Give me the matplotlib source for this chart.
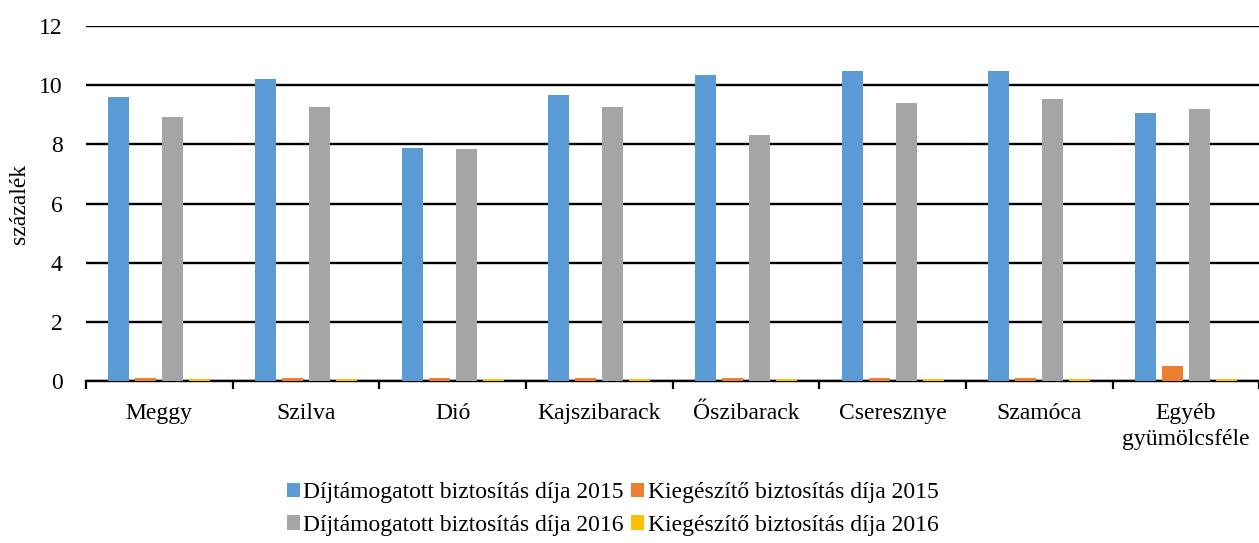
import numpy as np
import matplotlib.pyplot as plt

plt.rcParams['font.family'] = ['Liberation Serif', 'DejaVu Serif']

# ----------------------- Data -----------------------
categories = ["Meggy", "Szilva", "Dió", "Kajszibarack", "Őszibarack",
              "Cseresznye", "Szamóca", "Egyéb\ngyümölcsféle"]
dij_2015 = [9.60, 10.22, 7.87, 9.68, 10.34, 10.47, 10.48, 9.07]
kieg_2015 = [0.10, 0.10, 0.10, 0.10, 0.10, 0.10, 0.10, 0.50]
dij_2016 = [8.92, 9.27, 7.85, 9.27, 8.31, 9.41, 9.55, 9.20]
kieg_2016 = [0.09, 0.09, 0.09, 0.09, 0.09, 0.09, 0.09, 0.09]

series = [
    ("Díjtámogatott biztosítás díja 2015", dij_2015, "#5B9BD5"),
    ("Kiegészítő biztosítás díja 2015", kieg_2015, "#ED7D31"),
    ("Díjtámogatott biztosítás díja 2016", dij_2016, "#A5A5A5"),
    ("Kiegészítő biztosítás díja 2016", kieg_2016, "#FFC000"),
]

FS = 17

# ----------------------- Plot -----------------------
fig = plt.figure(figsize=(12.59, 5.43), dpi=100)
ax = fig.add_axes([0.0683, 0.298, 0.932, 0.654])

x = np.arange(len(categories))
width = 0.143
step = 0.184
offsets = (np.arange(4) - 1.5) * step

handles = []
for (label, vals, color), off in zip(series, offsets):
    h = ax.bar(x + off, vals, width, color=color, label=label, zorder=3)
    handles.append(h)

ax.set_ylim(0, 12)
ax.set_xlim(-0.5, len(categories) - 0.5)
ax.set_yticks(range(0, 13, 2))
ax.yaxis.grid(True, color="black", linewidth=1.7, zorder=1)
ax.set_axisbelow(False)

for side in ["left", "right", "top"]:
    ax.spines[side].set_visible(False)
ax.spines["bottom"].set_linewidth(1.7)
ax.spines["bottom"].set_zorder(2)

ax.set_xticks(x)
ax.set_xticklabels(categories, fontsize=FS, linespacing=1.3)
ax.tick_params(axis="x", which="major", length=0, pad=16)
ax.set_xticks(np.arange(-0.5, len(categories)), minor=True)
ax.tick_params(axis="x", which="minor", length=6, width=1.6, direction="out")
ax.tick_params(axis="y", length=0, labelsize=FS, pad=17)

ax.set_ylabel("százalék", fontsize=FS, labelpad=6)

# legend in two rows below the axes (ncol fills column-wise)
order = [0, 2, 1, 3]
fig.legend([handles[i] for i in order], [series[i][0] for i in order],
           loc="lower left", bbox_to_anchor=(0.211, -0.026), ncol=2,
           frameon=False, fontsize=FS, handlelength=0.55, handleheight=0.55,
           handletextpad=0.15, columnspacing=0.3, labelspacing=0.5)

fig.savefig("out.png", dpi=100)
